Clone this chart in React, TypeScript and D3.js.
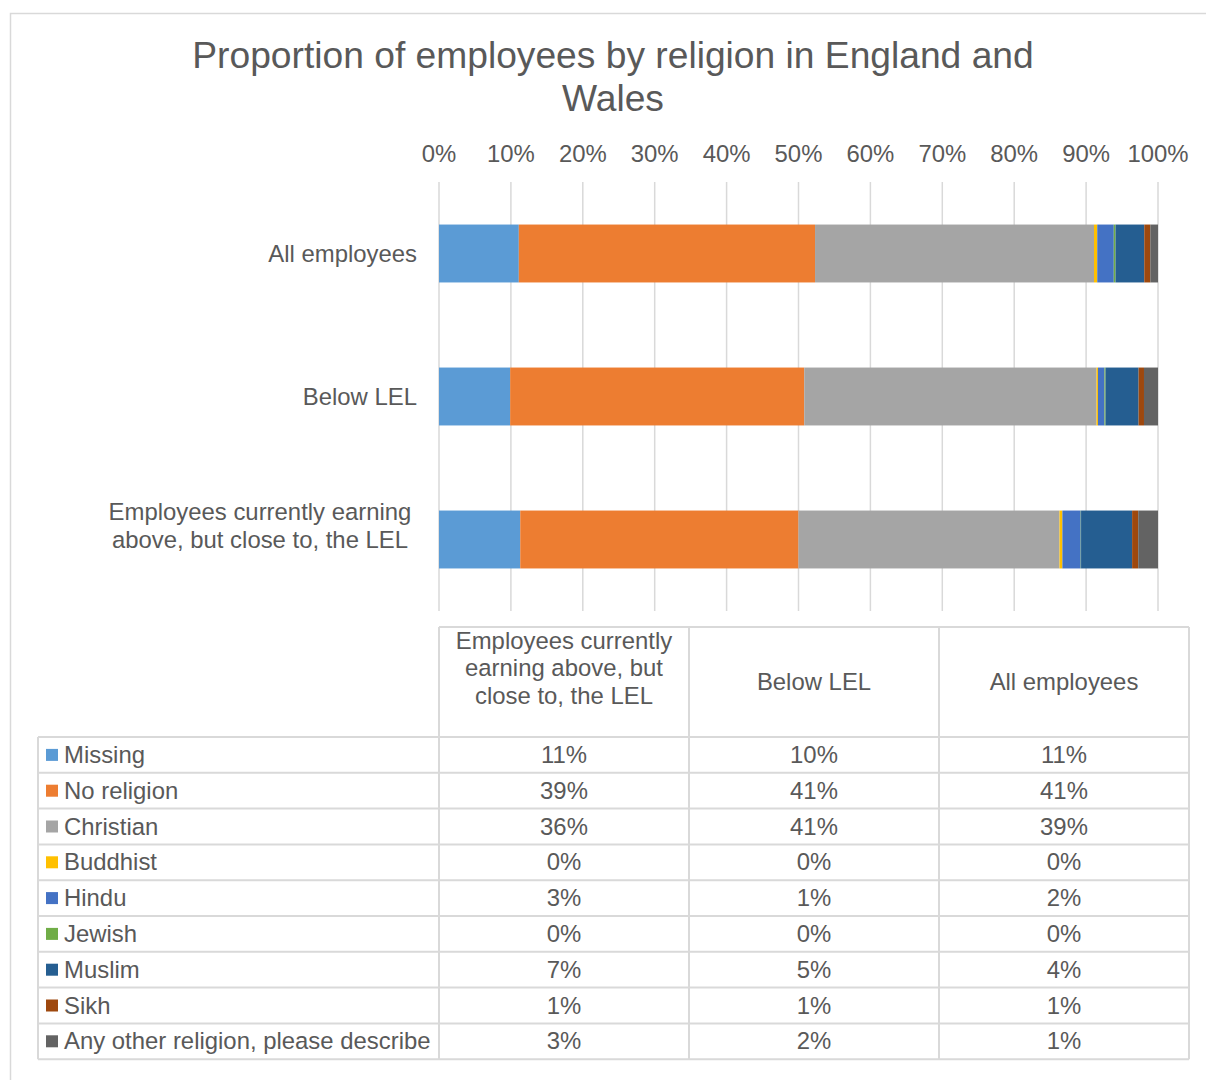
import React from "react";
import * as d3 from "d3";

const categories = ["All employees", "Below LEL", "Employees currently earning above, but close to, the LEL"];
const series = ["Missing", "No religion", "Christian", "Buddhist", "Hindu", "Jewish", "Muslim", "Sikh", "Any other religion, please describe"];
const colors = ["#5b9bd5", "#ed7d31", "#a5a5a5", "#ffc000", "#4472c4", "#70ad47", "#255e91", "#9e480e", "#636363"];
// values per category (percent), order follows series
const allEmployees = [11.1, 41.2, 38.8, 0.45, 2.3, 0.24, 4.0, 0.84, 1.07];
const belowLEL = [9.9, 40.9, 40.65, 0.2, 0.9, 0.15, 4.6, 0.75, 1.95];
const aboveCloseLEL = [11.3, 38.7, 36.3, 0.4, 2.55, 0.05, 7.1, 0.85, 2.75];
const values = [allEmployees, belowLEL, aboveCloseLEL];
const ticks = [0, 10, 20, 30, 40, 50, 60, 70, 80, 90, 100];
const tableColumns = [2, 1, 0]; // reversed category order in data table
const tableHeaders = [["Employees currently", "earning above, but", "close to, the LEL"], ["Below LEL"], ["All employees"]];
const catLabelLines = [["All employees"], ["Below LEL"], ["Employees currently earning", "above, but close to, the LEL"]];

const FONT = "'Liberation Sans', Arial, sans-serif";
const TXT = "#595959";
const GRID = "#d9d9d9";
const FS = 23.9;

export default function App() {
  const x = d3.scaleLinear().domain([0, 100]).range([439, 1158]);
  const y = d3.scaleBand().domain(categories).range([182, 611]).paddingInner(0.595).paddingOuter(0.2975);
  const colX = [439, 689, 939, 1189];
  const tableLeft = 38;
  const headerTop = 627;
  const rowTop = 737;
  const rowH = 35.8;

  return (
    <svg width={1206} height={1080} style={{ position: "absolute", left: 0, top: 0 }} fontFamily={FONT}>
      <rect x={0} y={0} width={1206} height={1080} fill="#fff" />
      <rect x={10.5} y={13.5} width={1220} height={1100} fill="none" stroke={GRID} strokeWidth={1.5} />
      <text x={613} y={68} textAnchor="middle" fontSize={37.2} fill={TXT}>Proportion of employees by religion in England and</text>
      <text x={613} y={111} textAnchor="middle" fontSize={37.2} fill={TXT}>Wales</text>
      {ticks.map((t) => (
        <g key={t}>
          <line x1={x(t)} x2={x(t)} y1={182} y2={611} stroke={GRID} strokeWidth={1.5} />
          <text x={x(t)} y={162} textAnchor="middle" fontSize={FS} fill={TXT}>{t}%</text>
        </g>
      ))}
      {categories.map((c, ci) => {
        const stack = d3.cumsum(values[ci]);
        return (
          <g key={c}>
            {values[ci].map((v, si) => (
              <rect key={si} x={x(stack[si] - v)} y={y(c)!} width={Math.max(0, x(stack[si]) - x(stack[si] - v))} height={y.bandwidth()} fill={colors[si]} />
            ))}
          </g>
        );
      })}
      {categories.map((c, ci) => {
        const lines = catLabelLines[ci];
        const cy = y(c)! + y.bandwidth() / 2;
        if (lines.length === 1) {
          return <text key={c} x={417} y={cy + 8} textAnchor="end" fontSize={FS} fill={TXT}>{lines[0]}</text>;
        }
        return (
          <text key={c} x={260} textAnchor="middle" fontSize={FS} fill={TXT}>
            {lines.map((l, li) => (
              <tspan key={li} x={260} y={cy - 6 + (li - (lines.length - 1) / 2) * 28}>{l}</tspan>
            ))}
          </text>
        );
      })}
      {/* data table */}
      <g stroke={GRID} strokeWidth={2} fill="none">
        <line x1={colX[0]} x2={colX[3]} y1={headerTop} y2={headerTop} />
        {colX.map((cx, i) => (
          <line key={i} x1={cx} x2={cx} y1={headerTop} y2={rowTop + rowH * series.length} />
        ))}
        <line x1={tableLeft} x2={tableLeft} y1={rowTop} y2={rowTop + rowH * series.length} />
        {d3.range(series.length + 1).map((r) => (
          <line key={r} x1={tableLeft} x2={colX[3]} y1={rowTop + r * rowH} y2={rowTop + r * rowH} />
        ))}
      </g>
      {tableColumns.map((ci, k) => {
        const lines = tableHeaders[k];
        const cx = (colX[k] + colX[k + 1]) / 2;
        const cy = (headerTop + rowTop) / 2;
        const off = lines.length > 1 ? -6 : 8;
        return (
          <text key={k} textAnchor="middle" fontSize={FS} fill={TXT}>
            {lines.map((l, li) => (
              <tspan key={li} x={cx} y={cy + off + (li - (lines.length - 1) / 2) * 27.5}>{l}</tspan>
            ))}
          </text>
        );
      })}
      {series.map((s, si) => {
        const cy = rowTop + si * rowH + rowH / 2;
        return (
          <g key={s}>
            <rect x={46} y={cy - 6} width={12} height={12} fill={colors[si]} />
            <text x={64} y={cy + 8} fontSize={FS} fill={TXT}>{s}</text>
            {tableColumns.map((ci, k) => (
              <text key={k} x={(colX[k] + colX[k + 1]) / 2} y={cy + 8} textAnchor="middle" fontSize={FS} fill={TXT}>
                {Math.round(values[ci][si])}%
              </text>
            ))}
          </g>
        );
      })}
    </svg>
  );
}
